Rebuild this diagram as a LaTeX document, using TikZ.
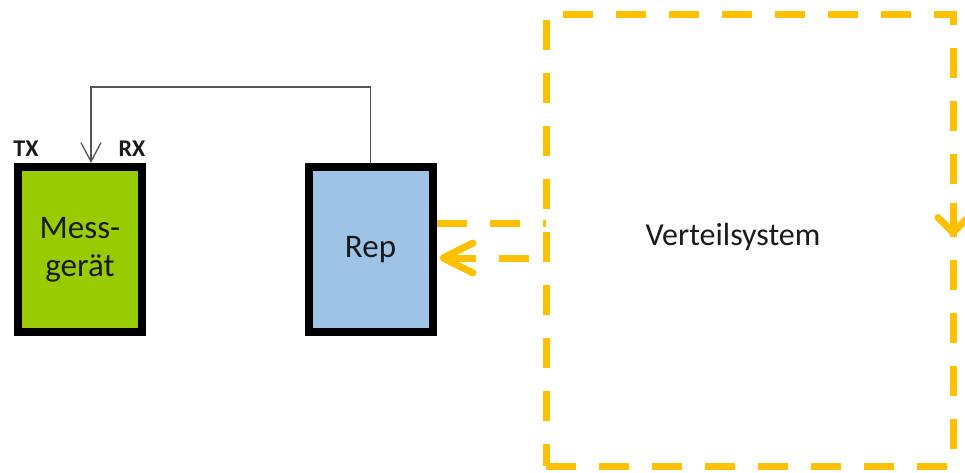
\documentclass[tikz,border=0pt]{standalone}
\usepackage{fontspec}
\setmainfont{Carlito}
\usetikzlibrary{arrows.meta,calc}
\definecolor{gold}{HTML}{FFC000}
\definecolor{mgreen}{HTML}{99CC00}
\definecolor{mblue}{HTML}{9DC3E6}
\definecolor{txtc}{HTML}{1A1A1A}
\definecolor{connc}{HTML}{555555}
\tikzset{
  devbox/.style={draw=black, line width=8pt, minimum width=124pt, minimum height=165pt,
    inner sep=0pt, align=center, text=txtc, font=\fontsize{33}{38}\selectfont},
  vbox/.style={draw=gold, line width=7pt, dash pattern=on 30pt off 23pt,
    minimum width=407pt, minimum height=452pt, inner sep=0pt},
  gdash/.style={draw=gold, line width=7pt, dash pattern=on 30pt off 23pt},
  gtip/.style={-{Straight Barb[length=30pt,width=30pt,round]}},
  conn/.style={draw=connc, line width=1.3pt, -{Straight Barb[length=19pt,width=20pt]}},
  port/.style={font=\bfseries\fontsize{24}{28}\selectfont, text=txtc, inner sep=0pt},
  lbl/.style={font=\fontsize{32}{38}\selectfont, text=txtc, inner sep=0pt}
}
\begin{document}
\begin{tikzpicture}[x=1pt,y=-1pt]
\useasboundingbox (0,0) rectangle (965,472);
\fill[white] (0,0) rectangle (965,472);
\node[vbox] (vs) at (749.5,240) {};
\node[lbl] (vslbl) at (733,237) {Verteilsystem};
\node[devbox, fill=mgreen] (mess) at (80,249.5) {Mess-\\gerät};
\node[devbox, fill=mblue] (rep) at (370.5,249.5) {Rep};
\node[port] (tx) at (26,149) {TX};
\node[port] (rx) at (132,149) {RX};
\coordinate (top) at (91,87);
\coordinate (inp) at ($(mess.north)+(11,0)$);
\draw[conn] (rep.north) |- (top) -- (inp);
\coordinate (l1) at (546,223);
\coordinate (l2) at (546,258);
\draw[gdash] (l1 -| rep.east) -- (l1);
\draw[gdash, dash phase=36pt, gtip] (l2) -- ($(l2 -| rep.east)+(3,0)$);
\coordinate (r1) at (953,203);
\coordinate (r2) at (953,236);
\draw[draw=gold, line width=7pt, -{Straight Barb[length=15pt,width=30pt,round]}] (r1) -- (r2);
\end{tikzpicture}
\end{document}
